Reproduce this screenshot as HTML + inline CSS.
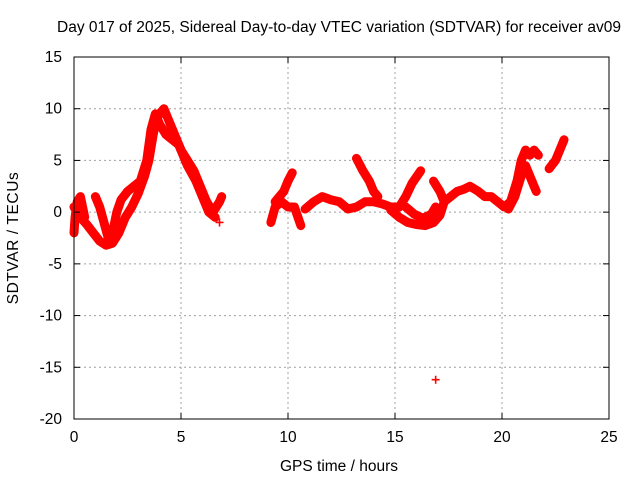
<!DOCTYPE html>
<html><head><meta charset="utf-8"><style>
body{margin:0;background:#fff;}
svg{display:block;font-family:"Liberation Sans",sans-serif;}
</style></head><body>
<svg id="chart" width="640" height="480">
<text x="339" y="32" font-size="15.5" text-anchor="middle">Day 017 of 2025, Sidereal Day-to-day VTEC variation (SDTVAR) for receiver av09</text>
<g id="grid"></g><g id="data"></g><g id="axes"></g>
<text x="339" y="471" font-size="15.5" text-anchor="middle">GPS time / hours</text>
<text transform="translate(18,238) rotate(-90)" font-size="15.5" text-anchor="middle" letter-spacing="0.6">SDTVAR / TECUs</text>
</svg>
<script>
const xTicks=[0,5,10,15,20,25];
const yTicks=[15,10,5,0,-5,-10,-15,-20];
const trackA=[[0,0.5],[0.3,-0.5],[0.6,-1.2],[0.9,-2],[1.2,-2.8],[1.5,-3.2],[1.8,-3],[2.1,-2],[2.4,-0.5],[2.7,0.5],[3,1.8],[3.3,3.5],[3.5,5],[3.7,7.5],[3.85,9],[4,9.5],[4.2,10],[4.4,9],[4.6,8],[4.8,7],[5,6],[5.3,5],[5.6,4],[5.9,2.5],[6.2,1],[6.5,0],[6.8,1],[6.9,1.5]];
const trackB=[[1,1.5],[1.2,0.5],[1.4,-1],[1.6,-2.5],[1.8,-2],[2,0],[2.2,1.2],[2.5,2],[2.8,2.5],[3.1,3],[3.4,5],[3.6,8],[3.8,9.5],[4,8.5],[4.3,7.5],[4.6,7],[4.9,6.5],[5.3,4.5],[5.7,3],[6,1.5],[6.3,0],[6.6,-0.5]];
const trackC=[[0,-2],[0.05,-0.5],[0.15,1],[0.3,1.5],[0.4,0.5],[0.5,-0.5]];
const trackD=[[9.2,-1],[9.4,0.5],[9.7,1],[10,0.5],[10.3,0.5],[10.6,-1.3]];
const trackE=[[9.4,1],[9.8,2],[10,3],[10.2,3.8]];
const trackF=[[10.8,0.3],[11.2,1],[11.6,1.5],[12,1.2],[12.4,1],[12.8,0.3],[13.2,0.5],[13.6,1],[14,1],[14.4,0.8],[14.8,0.5],[15.2,0.5],[15.5,1.5],[15.8,2.8],[16.2,4]];
const trackG=[[13.2,5.2],[13.5,4],[13.8,3],[14,2],[14.2,1.5]];
const trackH=[[14.8,0.2],[15.2,-0.5],[15.6,-1],[16,-1.2],[16.4,-1.3],[16.8,-1],[17.1,-0.3],[17.3,1],[17.1,2],[16.8,3]];
const trackI=[[15.5,0.5],[15.9,-0.2],[16.3,-0.6],[16.7,-0.2],[16.9,0.5]];
const trackJ=[[17.3,1],[17.6,1.5],[17.9,2],[18.2,2.2],[18.5,2.5],[18.9,2],[19.2,1.5],[19.5,1.5],[19.8,1],[20.1,0.5],[20.4,1],[20.7,3],[20.9,5],[21.1,6],[21.3,5.5],[21.5,6],[21.7,5.5]];
const trackK=[[20.3,0.3],[20.6,1.5],[20.9,3.5],[21.1,4.5],[21.3,3.5],[21.5,2.5],[21.6,2]];
const trackL=[[22.2,4.2],[22.5,5],[22.8,6.5],[22.9,7]];
const singles=[[6.8,-1],[16.9,-16.2]];
const tracks=[trackA,trackB,trackC,trackD,trackE,trackF,trackG,trackH,trackI,trackJ,trackK,trackL];
const L=74,R=609,T=57,B=419;
const X=h=>L+(h-0)/(25-0)*(R-L);
const Y=v=>T+(15-v)/(15-(-20))*(B-T);
const NS='http://www.w3.org/2000/svg';
function mk(tag,attrs,parent){const e=document.createElementNS(NS,tag);for(const k in attrs)e.setAttribute(k,attrs[k]);parent.appendChild(e);return e;}
const grid=document.getElementById('grid'),axes=document.getElementById('axes'),data=document.getElementById('data');
xTicks.forEach(t=>{const x=X(t);
 if(t>0&&t<25){const g=mk('line',{x1:x,x2:x,y1:T,y2:B,stroke:'#a0a0a0','stroke-dasharray':'2,3'},grid);}
 mk('line',{x1:x,x2:x,y1:B,y2:B-6,stroke:'#000'},axes);mk('line',{x1:x,x2:x,y1:T,y2:T+6,stroke:'#000'},axes);
 const tx=mk('text',{x:x,y:B+23,'font-size':15.5,'text-anchor':'middle'},axes);tx.textContent=t;
 });
yTicks.forEach(t=>{const y=Y(t);
 if(t<15&&t>-20){const g=mk('line',{x1:L,x2:R,y1:y,y2:y,stroke:'#a0a0a0','stroke-dasharray':'2,3'},grid);}
 mk('line',{x1:L,x2:L+6,y1:y,y2:y,stroke:'#000'},axes);mk('line',{x1:R,x2:R-6,y1:y,y2:y,stroke:'#000'},axes);
 const tx=mk('text',{x:L-12,y:y+5,'font-size':15.5,'text-anchor':'end'},axes);tx.textContent=t;
 });
const fr=mk('rect',{x:L,y:T,width:R-L,height:B-T,fill:'none',stroke:'#000'},axes);

function cross(h,v){const x=X(h),y=Y(v);const p=mk('path',{d:`M${x-4},${y}H${x+4}M${x},${y-4}V${y+4}`,stroke:'#f00','stroke-width':1.6},data);
 }
tracks.forEach(tr=>{
 const pl=mk('polyline',{points:tr.map(p=>X(p[0])+','+Y(p[1])).join(' '),fill:'none',stroke:'#f00','stroke-width':9,'stroke-linejoin':'round','stroke-linecap':'round'},data);
 
 tr.forEach(p=>cross(p[0],p[1]));});
singles.forEach(p=>cross(p[0],p[1]));
</script>
</body></html>
